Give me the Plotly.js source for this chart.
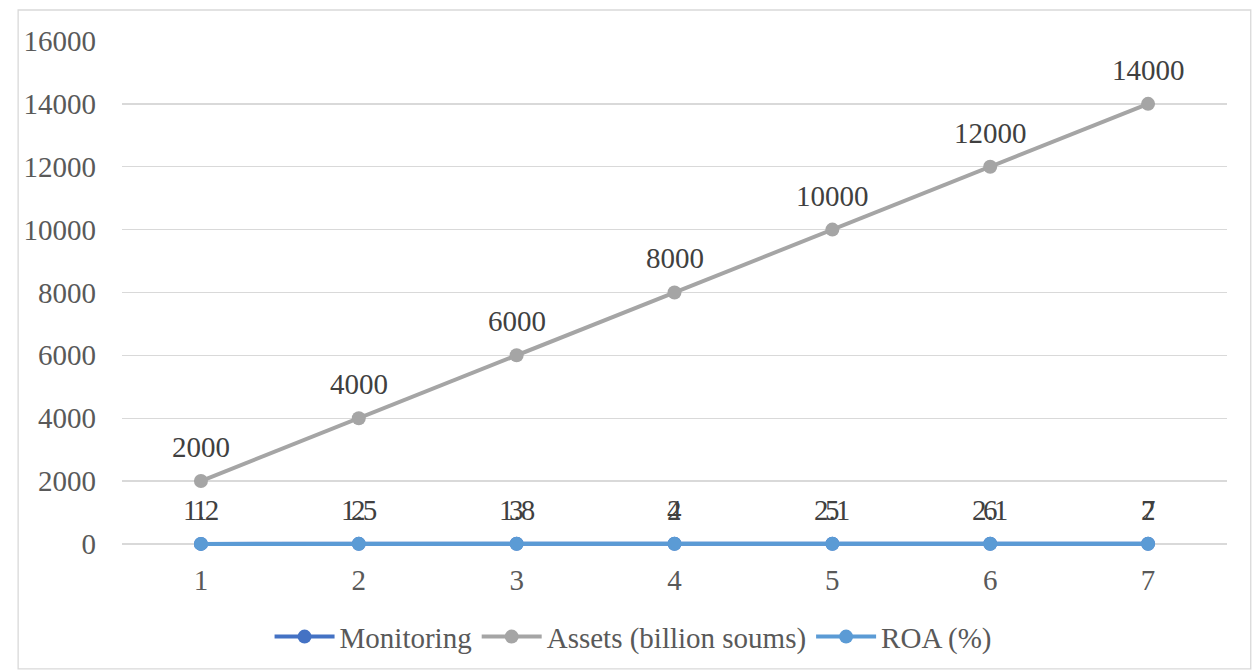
<!DOCTYPE html>
<html>
<head>
<meta charset="utf-8">
<script src="https://cdn.plot.ly/plotly-3.0.1.min.js"></script>
<style>html,body{margin:0;padding:0;background:#fff;}#chart{width:1252px;height:670px;}</style>
</head>
<body>
<div id="chart"></div>
<script>
const periods = [1, 2, 3, 4, 5, 6, 7];
const monitoring = [1, 2, 3, 4, 5, 6, 7];
const assets = [2000, 4000, 6000, 8000, 10000, 12000, 14000];
const roa = [1.2, 1.5, 1.8, 2, 2.1, 2.1, 2];
const seriesNames = ["Monitoring", "Assets (billion soums)", "ROA (%)"];
const yTicks = [0, 2000, 4000, 6000, 8000, 10000, 12000, 14000, 16000];

const font = "Liberation Serif";
const fs = 29;

function trace(name, y, color) {
  return {
    x: periods, y: y, name: name, type: "scatter", mode: "lines+markers",
    line: {color: color, width: 4},
    marker: {color: color, size: 14},
    cliponaxis: false
  };
}

const data = [
  trace(seriesNames[0], monitoring, "#4472C4"),
  trace(seriesNames[1], assets, "#A5A5A5"),
  trace(seriesNames[2], roa, "#5B9BD5")
];

const annotations = [];
[monitoring, assets, roa].forEach(function (ys) {
  ys.forEach(function (v, i) {
    annotations.push({x: periods[i], y: v, xref: "x", yref: "y", text: String(v),
      showarrow: false, yshift: 34, font: {family: font, size: fs, color: "#404040"}});
  });
});

const layout = {
  width: 1252, height: 670,
  margin: {l: 122, r: 25, t: 41, b: 122, autoexpand: false},
  paper_bgcolor: "#fff", plot_bgcolor: "#fff",
  font: {family: font, size: fs, color: "#595959"},
  showlegend: true,
  legend: {orientation: "h", x: 0.4625, y: -0.175, xanchor: "center", yanchor: "middle",
           font: {family: font, size: fs, color: "#595959"}, itemwidth: 60, tracegroupgap: 0},
  xaxis: {range: [0.5, 7.5], tickvals: periods, ticktext: periods.map(String),
          showgrid: false, zeroline: false, showline: false, ticks: "", ticklabelstandoff: 12,
          tickfont: {family: font, size: fs, color: "#595959"}},
  yaxis: {range: [-130, 16000], tickvals: yTicks, ticktext: yTicks.map(String),
          showgrid: true, gridcolor: "#D9D9D9", gridwidth: 1.3, zeroline: true, zerolinecolor: "#D9D9D9", zerolinewidth: 1.3,
          showline: false, ticks: "", ticklabelstandoff: 25,
          tickfont: {family: font, size: fs, color: "#595959"}},
  annotations: annotations,
  shapes: [{type: "rect", xref: "paper", yref: "paper",
            x0: -0.094, x1: 1.0215, y0: -0.2385, y1: 1.0611,
            line: {color: "#D9D9D9", width: 1.3}, fillcolor: "rgba(0,0,0,0)", layer: "below"}]
};

Plotly.newPlot("chart", data, layout, {displayModeBar: false, staticPlot: true});
</script>
</body>
</html>
